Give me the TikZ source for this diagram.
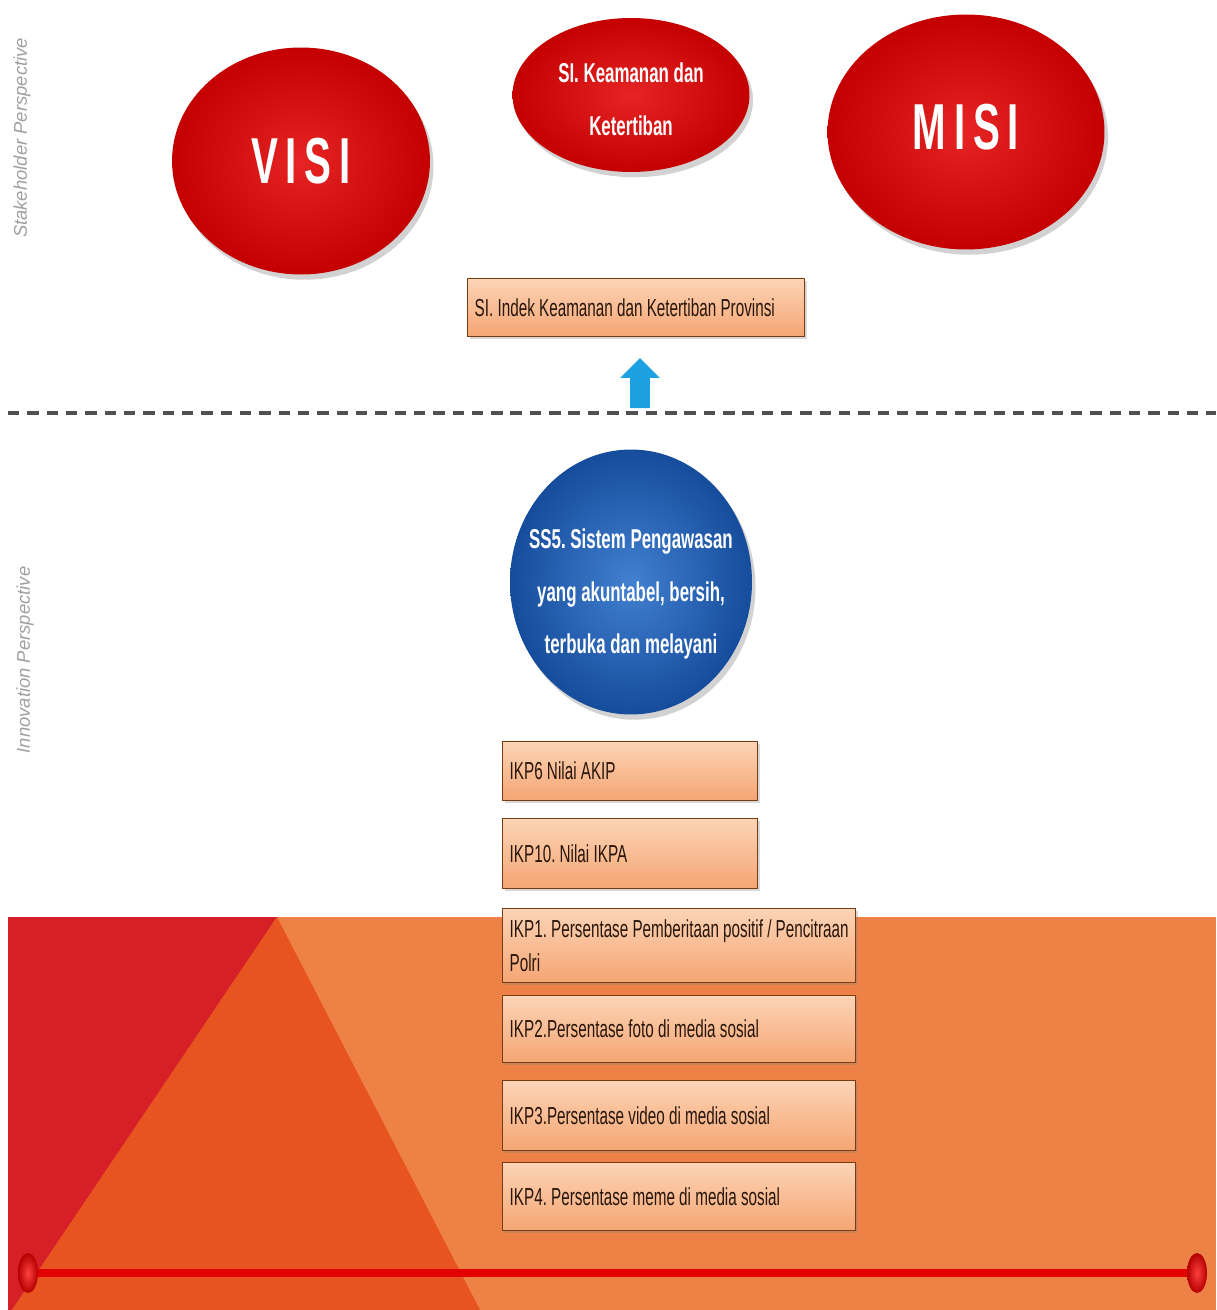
\documentclass[tikz,border=0pt]{standalone}
\usepackage{xcolor}
\usepackage{tikz}
\usepackage{fontspec}
\setmainfont{Liberation Sans}
\newfontfamily\narrowfont[FakeStretch=0.62, WordSpace={1.0,0.2,0.5}]{Liberation Sans}
\usetikzlibrary{shapes.geometric, shapes.arrows, shadows, positioning}
\definecolor{ovalred}{RGB}{196,0,0}
\definecolor{ovalredlight}{RGB}{230,36,36}
\definecolor{ovalblue}{RGB}{22,76,156}
\definecolor{ovalbluelight}{RGB}{66,128,208}
\definecolor{boxtop}{RGB}{252,212,182}
\definecolor{boxbottom}{RGB}{245,165,115}
\definecolor{boxedge}{RGB}{120,60,20}
\definecolor{boxtext}{RGB}{40,22,10}
\definecolor{arrowblue}{RGB}{27,160,224}
\definecolor{bandred}{RGB}{215,31,39}
\definecolor{banddark}{RGB}{232,84,31}
\definecolor{bandlight}{RGB}{238,130,70}
\definecolor{barred}{RGB}{226,0,0}
\definecolor{sidegray}{RGB}{160,160,160}
\definecolor{dashgray}{RGB}{80,80,80}
\frenchspacing

\begin{document}
\begin{tikzpicture}[
    x=0.02cm, y=-0.02cm,
    oval/.style={ellipse, inner sep=0pt, drop shadow={opacity=0.35, shadow xshift=2pt, shadow yshift=-3pt}},
    redoval/.style={oval, inner color=ovalredlight, outer color=ovalred},
    blueoval/.style={oval, inner color=ovalbluelight, outer color=ovalblue},
    ovaltext/.style={text=white, align=center, font=\narrowfont\bfseries\fontsize{15.5}{30}\selectfont},
    bigtext/.style={text=white, font=\narrowfont\bfseries\fontsize{37}{40}\selectfont\addfontfeatures{LetterSpace=12}},
    kpi/.style={anchor=north west, draw=boxedge, line width=0.8pt, top color=boxtop, bottom color=boxbottom,
        text=boxtext, align=flush left, inner xsep=0.14cm, inner ysep=0pt, font=\narrowfont\fontsize{14}{19}\selectfont,
        drop shadow={opacity=0.3, shadow xshift=1.5pt, shadow yshift=-1.5pt}},
    sidelabel/.style={rotate=90, text=sidegray, font=\itshape\fontsize{10.5}{12}\selectfont},
    uparrow/.style={single arrow, shape border rotate=90, fill=arrowblue, minimum height=1cm,
        inner sep=0.19cm, single arrow head extend=0.2cm},
    knob/.style={ellipse, minimum width=0.4cm, minimum height=0.8cm, inner sep=0pt, inner color=red!75!white, outer color=barred!80!black},
    bar/.style={line width=0.16cm, barred}
]
    \fill[white] (0,0) rectangle (1216,1310);
    \useasboundingbox (0,0) rectangle (1216,1310);

    % Bottom band
    \fill[bandlight] (8,917) rectangle (1216,1310);
    \fill[bandred] (8,917) -- (277,917) -- (12,1310) -- (8,1310) -- cycle;
    \fill[banddark] (277,917) -- (480,1310) -- (12,1310) -- cycle;

    % Side labels
    \node[sidelabel] (stake) at (22,138) {Stakeholder Perspective};
    \node[sidelabel] (innov) at (25,660) {Innovation Perspective};

    % Stakeholder ovals
    \node[redoval, minimum width=5.16cm, minimum height=4.54cm] (visi) at (301,161) {};
    \node[bigtext] (visitxt) at (visi) {VISI};
    \node[redoval, minimum width=4.74cm, minimum height=3.08cm] (kam) at (631,95) {};
    \node[ovaltext] (kamtxt) at (631,99) {SI. Keamanan dan\\Ketertiban};
    \node[redoval, minimum width=5.54cm, minimum height=4.7cm] (misi) at (966,132) {};
    \node[bigtext] (misitxt) at (966,127) {MISI};

    \node[kpi, text width=6.46cm, minimum height=1.16cm] (si) at (467,278) {SI. Indek Keamanan dan Ketertiban Provinsi};

    % Divider
    \coordinate (dashL) at (8,413);
    \coordinate (dashR) at (1216,413);
    \draw[dashgray, line width=2.3pt, dash pattern=on 6.5pt off 4.5pt] (dashL) -- (dashR);
    \node[uparrow] (up) at (640,388) {};

    % Innovation
    \node[blueoval, minimum width=4.84cm, minimum height=5.3cm] (ss5) at (631,582) {};
    \node[ovaltext] (ss5txt) at (631,594) {SS5. Sistem Pengawasan\\yang akuntabel, bersih,\\terbuka dan melayani};

    \node[kpi, text width=4.82cm, minimum height=1.18cm] (ikp6) at (502,741) {IKP6 Nilai AKIP};
    \node[kpi, text width=4.82cm, minimum height=1.4cm] (ikp10) at (502,818) {IKP10. Nilai IKPA};
    \node[kpi, text width=6.78cm, minimum height=1.48cm] (ikp1) at (502,908) {IKP1. Persentase Pemberitaan positif / Pencitraan\\Polri};
    \node[kpi, text width=6.78cm, minimum height=1.34cm] (ikp2) at (502,995) {IKP2.Persentase foto di media sosial};
    \node[kpi, text width=6.78cm, minimum height=1.4cm] (ikp3) at (502,1080) {IKP3.Persentase video di media sosial};
    \node[kpi, text width=6.78cm, minimum height=1.36cm] (ikp4) at (502,1162) {IKP4. Persentase meme di media sosial};

    % Base line
    \node[knob] (kl) at (28,1273) {};
    \node[knob] (kr) at (1197,1273) {};
    \draw[bar] (kl) -- (kr);
\end{tikzpicture}
\end{document}
